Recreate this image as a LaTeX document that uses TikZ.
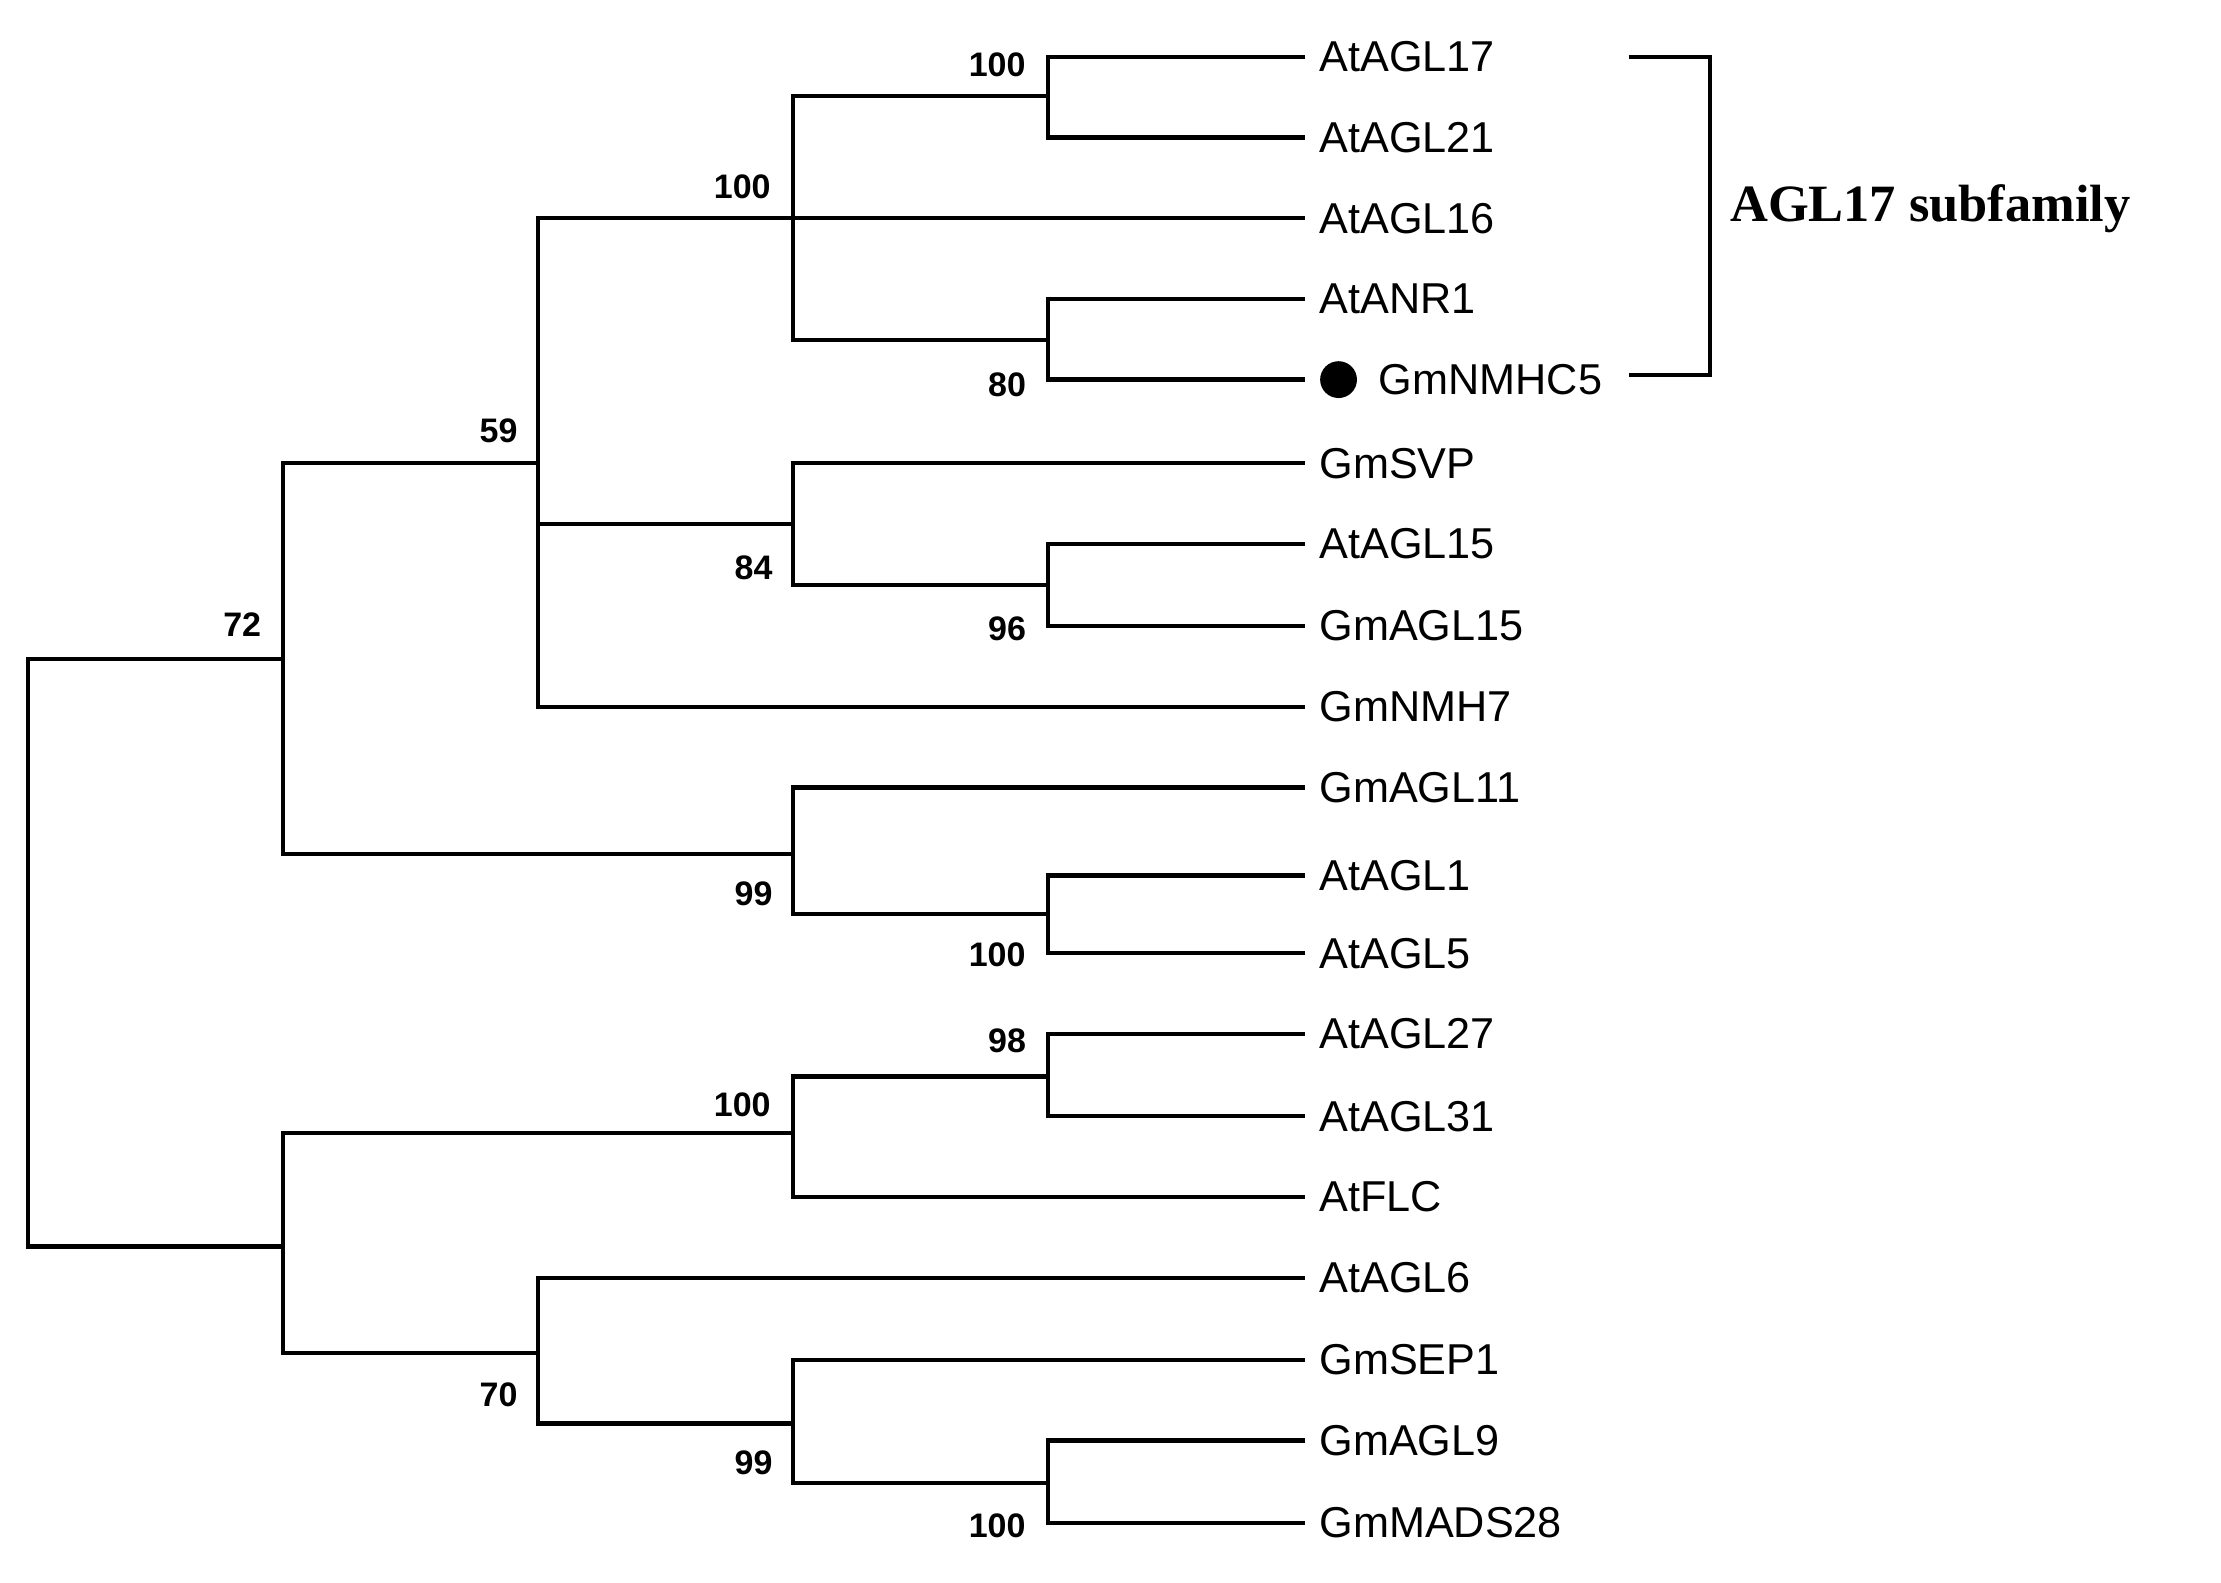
\documentclass[tikz,border=0pt]{standalone}
\usepackage{fontspec}
\setmainfont{Liberation Sans}
\newfontfamily\serifb{Liberation Serif}
\begin{document}
\begin{tikzpicture}[x=1pt,y=-1pt,line width=3pt,
 leaf/.style={anchor=west,inner sep=0pt,font=\fontsize{30.5}{31}\selectfont},
 bs/.style={font=\bfseries\fontsize{24}{26}\selectfont,inner sep=0pt},
 tr/.style={line cap=rect}]
\useasboundingbox (0,0) rectangle (1568,1117);
\foreach \n/\t/\y in {l1/AtAGL17/40,l2/AtAGL21/97,l3/AtAGL16/154,l4/AtANR1/211,l6/GmSVP/327,l7/AtAGL15/384,l8/GmAGL15/442,l9/GmNMH7/499,l10/GmAGL11/556,l11/AtAGL1/618,l12/AtAGL5/673,l13/AtAGL27/730,l14/AtAGL31/788,l15/AtFLC/845,l16/AtAGL6/902,l17/GmSEP1/960,l18/GmAGL9/1017,l19/GmMADS28/1075}
 {\node[leaf] (\n) at (930,\y) {\t};}
\node[leaf] (l5) at (972,268) {GmNMHC5};
\fill (945,268) circle (13);
\coordinate (e5) at (920,268);
\coordinate (A) at (740,68); \coordinate (C) at (740,240); \coordinate (B) at (560,155);
\coordinate (F) at (740,413); \coordinate (E) at (560,370); \coordinate (D) at (380,327);
\coordinate (I) at (740,645); \coordinate (H) at (560,603); \coordinate (G) at (200,465);
\coordinate (L) at (740,760); \coordinate (K) at (560,800);
\coordinate (O) at (740,1047); \coordinate (N) at (560,1005); \coordinate (M) at (380,955);
\coordinate (J) at (200,880); \coordinate (R) at (20,672);
\draw[tr] (l1.west)++(-10,0) -| (A) |- ([xshift=-10]l2.west);
\draw[tr] (l4.west)++(-10,0) -| (C) |- (e5);
\draw[tr] (A) -| (B) |- (C);
\draw[tr] (l7.west)++(-10,0) -| (F) |- ([xshift=-10]l8.west);
\draw[tr] (l6.west)++(-10,0) -| (E) |- (F);
\draw[tr] (l3.west)++(-10,0) -| (D) |- ([xshift=-10]l9.west);
\draw[tr] (D|-E) -- (E);
\draw[tr] (l11.west)++(-10,0) -| (I) |- ([xshift=-10]l12.west);
\draw[tr] (l10.west)++(-10,0) -| (H) |- (I);
\draw[tr] (D) -| (G) |- (H);
\draw[tr] (l13.west)++(-10,0) -| (L) |- ([xshift=-10]l14.west);
\draw[tr] (L) -| (K) |- ([xshift=-10]l15.west);
\draw[tr] (l18.west)++(-10,0) -| (O) |- ([xshift=-10]l19.west);
\draw[tr] (l17.west)++(-10,0) -| (N) |- (O);
\draw[tr] (l16.west)++(-10,0) -| (M) |- (N);
\draw[tr] (K) -| (J) |- (M);
\draw[tr] (G) -| (R) |- (J);
\node[bs] at (704,46) {100};
\node[bs] at (524,132) {100};
\node[bs] at (711,272) {80};
\node[bs] at (352,304) {59};
\node[bs] at (532,401) {84};
\node[bs] at (711,444) {96};
\node[bs] at (171,441) {72};
\node[bs] at (532,631) {99};
\node[bs] at (704,674) {100};
\node[bs] at (711,735) {98};
\node[bs] at (524,780) {100};
\node[bs] at (352,985) {70};
\node[bs] at (532,1033) {99};
\node[bs] at (704,1077) {100};
\coordinate (b1) at (1150,40); \coordinate (b2) at (1150,265);
\draw (b1) -- (1207,40) -- (1207,265) -- (b2);
\node[anchor=west,inner sep=0pt,font=\serifb\bfseries\fontsize{37}{38}\selectfont] (sub) at (1220,147) {AGL17 subfamily};
\end{tikzpicture}
\end{document}
